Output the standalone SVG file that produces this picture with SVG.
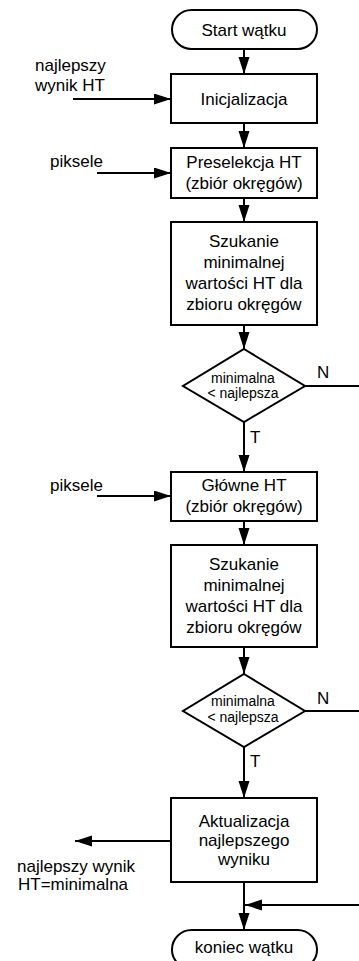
<svg xmlns="http://www.w3.org/2000/svg" width="359" height="961" viewBox="0 0 359 961">
<defs>
<marker id="ah" markerUnits="userSpaceOnUse" markerWidth="18" markerHeight="12" refX="17" refY="5.5" orient="auto">
<path d="M0,0 L17,5.5 L0,11 z" fill="#000"/>
</marker>
<style>
.s{fill:#fff;stroke:#000;stroke-width:2}
.c{fill:none;stroke:#000;stroke-width:2}
text{font-family:"Liberation Sans",Arial,sans-serif;font-size:17px;fill:#000}
.m{text-anchor:middle}
.d{font-size:14px}
</style>
</defs>
<rect width="359" height="961" fill="#fff"/>
<g id="connectors">
<line class="c" x1="244" y1="49" x2="244" y2="74" marker-end="url(#ah)"/>
<line class="c" x1="73" y1="99" x2="171" y2="99" marker-end="url(#ah)"/>
<line class="c" x1="244" y1="123" x2="244" y2="148" marker-end="url(#ah)"/>
<line class="c" x1="97" y1="173" x2="171" y2="173" marker-end="url(#ah)"/>
<line class="c" x1="244" y1="198" x2="244" y2="222" marker-end="url(#ah)"/>
<line class="c" x1="244" y1="325" x2="244" y2="349" marker-end="url(#ah)"/>
<line class="c" x1="305" y1="386" x2="359" y2="386"/>
<line class="c" x1="244" y1="422" x2="244" y2="472" marker-end="url(#ah)"/>
<line class="c" x1="97" y1="496" x2="171" y2="496" marker-end="url(#ah)"/>
<line class="c" x1="244" y1="521" x2="244" y2="545" marker-end="url(#ah)"/>
<line class="c" x1="244" y1="647" x2="244" y2="674" marker-end="url(#ah)"/>
<line class="c" x1="305" y1="711" x2="359" y2="711"/>
<line class="c" x1="244" y1="747" x2="244" y2="798" marker-end="url(#ah)"/>
<line class="c" x1="171" y1="841" x2="75" y2="841" marker-end="url(#ah)"/>
<line class="c" x1="244" y1="882" x2="244" y2="930" marker-end="url(#ah)"/>
<line class="c" x1="359" y1="905" x2="245" y2="905" marker-end="url(#ah)"/>
<text x="317" y="378">N</text>
<text x="250" y="443">T</text>
<text x="317" y="704">N</text>
<text x="250" y="767">T</text>
<text x="35" y="71">najlepszy</text>
<text x="35" y="91">wynik HT</text>
<text x="50" y="167">piksele</text>
<text x="50" y="491">piksele</text>
<text x="17" y="872">najlepszy wynik</text>
<text x="18" y="890">HT=minimalna</text>
</g>
<g id="start">
<rect class="s" x="172" y="10" width="145" height="39" rx="19.5"/>
<text class="m" x="244" y="36">Start wątku</text>
</g>
<g id="init">
<rect class="s" x="171" y="74" width="146" height="49"/>
<text class="m" x="244" y="105">Inicjalizacja</text>
</g>
<g id="preselekcja">
<rect class="s" x="171" y="148" width="146" height="50"/>
<text class="m" x="244" y="168">Preselekcja HT</text>
<text class="m" x="244" y="189">(zbiór okręgów)</text>
</g>
<g id="szukanie1">
<rect class="s" x="171" y="222" width="146" height="103"/>
<text class="m" x="244" y="247">Szukanie</text>
<text class="m" x="244" y="268">minimalnej</text>
<text class="m" x="244" y="289">wartości HT dla</text>
<text class="m" x="244" y="310">zbioru okręgów</text>
</g>
<g id="decyzja1">
<polygon class="s" points="244,349 305,386 244,422 183,386"/>
<text class="m d" x="243" y="383">minimalna</text>
<text class="m d" x="243" y="398">&lt; najlepsza</text>
</g>
<g id="glowne">
<rect class="s" x="171" y="472" width="146" height="49"/>
<text class="m" x="244" y="491">Główne HT</text>
<text class="m" x="244" y="512">(zbiór okręgów)</text>
</g>
<g id="szukanie2">
<rect class="s" x="171" y="545" width="146" height="102"/>
<text class="m" x="244" y="570">Szukanie</text>
<text class="m" x="244" y="591">minimalnej</text>
<text class="m" x="244" y="612">wartości HT dla</text>
<text class="m" x="244" y="633">zbioru okręgów</text>
</g>
<g id="decyzja2">
<polygon class="s" points="244,674 305,711 244,747 183,711"/>
<text class="m d" x="243" y="706">minimalna</text>
<text class="m d" x="243" y="722">&lt; najlepsza</text>
</g>
<g id="aktualizacja">
<rect class="s" x="171" y="798" width="146" height="84"/>
<text class="m" x="244" y="827">Aktualizacja</text>
<text class="m" x="244" y="846">najlepszego</text>
<text class="m" x="244" y="865">wyniku</text>
</g>
<g id="koniec">
<rect class="s" x="172" y="930" width="145" height="39" rx="19.5"/>
<text class="m" x="244" y="953">koniec wątku</text>
</g>
</svg>
